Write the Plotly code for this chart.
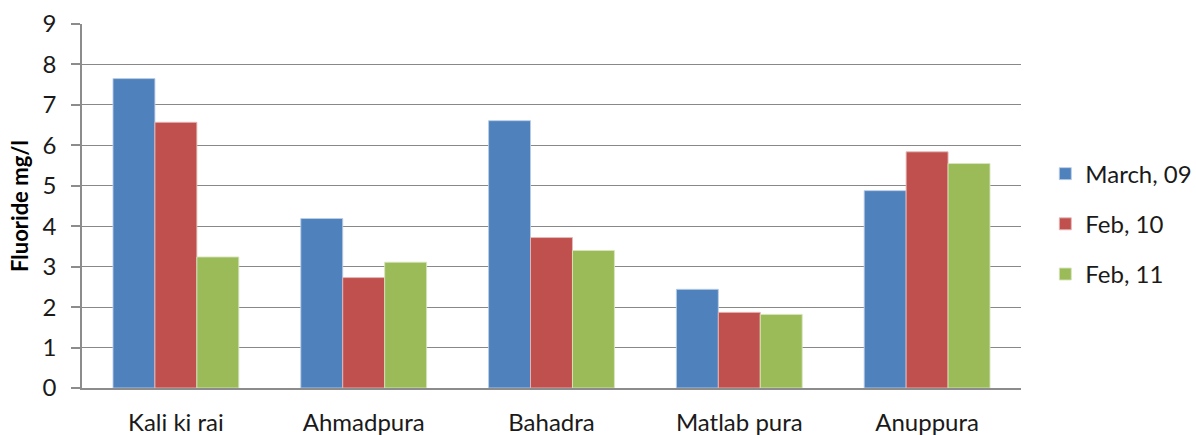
import plotly.graph_objects as go

# Sampling sites and fluoride concentrations (mg/l) per survey
sites = ["Kali ki rai", "Ahmadpura", "Bahadra", "Matlab pura", "Anuppura"]
march_09 = [7.65, 4.19, 6.61, 2.44, 4.88]
feb_10 = [6.57, 2.73, 3.72, 1.87, 5.84]
feb_11 = [3.24, 3.11, 3.40, 1.82, 5.55]

series = [
    ("March, 09", march_09, "#4F81BD", "rgba(185,205,229,0.9)"),
    ("Feb, 10", feb_10, "#C0504D", "rgba(230,185,184,0.9)"),
    ("Feb, 11", feb_11, "#9BBB59", "rgba(215,228,189,0.9)"),
]

FONT = "Lato, Calibri, Carlito, sans-serif"

fig = go.Figure()
for i, (name, vals, color, edge) in enumerate(series):
    fig.add_trace(go.Bar(
        x=sites, y=vals, name=name,
        marker=dict(color=color, line=dict(color=edge, width=1)),
        legendgroup=f"g{i}",
    ))

fig.update_layout(
    width=1196, height=435,
    margin=dict(l=82, r=175, t=24, b=47, autoexpand=False),
    paper_bgcolor="white", plot_bgcolor="white",
    barmode="group", bargap=0.33, bargroupgap=0,
    font=dict(family=FONT, size=24, color="#1a1a1a"),
    showlegend=True,
    legend=dict(
        xref="container", yref="container",
        x=0.874, y=0.485, xanchor="left", yanchor="middle",
        traceorder="grouped", tracegroupgap=16,
        font=dict(family=FONT, size=24, color="#1a1a1a"),
        itemwidth=30,
    ),
    xaxis=dict(
        showgrid=False, showline=True, linecolor="#8c8c8c", linewidth=1.5,
        ticks="", ticklabelstandoff=12, automargin=False,
        tickfont=dict(family=FONT, size=24, color="#1a1a1a"),
    ),
    yaxis=dict(
        range=[0, 9], dtick=1, tick0=0, automargin=False,
        showgrid=True, gridcolor="#888888", gridwidth=1.4,
        showline=True, linecolor="#8c8c8c", linewidth=1.5,
        ticks="outside", ticklen=9, tickcolor="#8c8c8c", tickwidth=1.5,
        ticklabelstandoff=10, zeroline=False,
        tickfont=dict(family=FONT, size=24, color="#1a1a1a"),
        title=dict(text="<b>Fluoride mg/l</b>", standoff=8,
                   font=dict(family=FONT, size=22, color="#000000")),
    ),
)

fig.write_html("out.html")
